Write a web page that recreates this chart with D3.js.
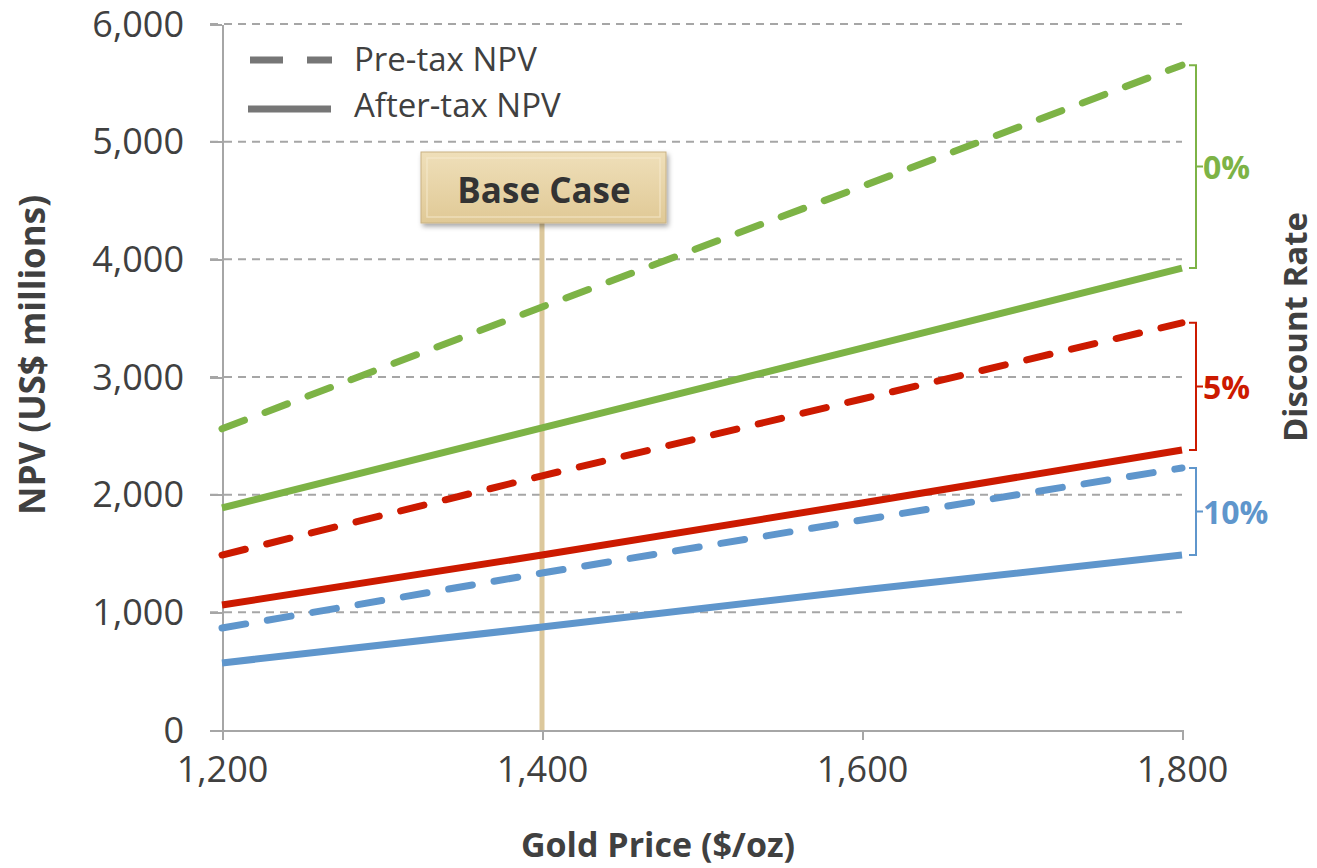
<!DOCTYPE html>
<html lang="en">
<head>
    <meta charset="UTF-8">
    <title>NPV Sensitivity to Gold Price</title>
    <style>
        body {
            margin: 0;
            background: #fff;
        }
        svg text {
            font-family: "Open Sans", Arial, sans-serif;
        }
        .tick text {
            fill: #404040;
            font-size: 36px;
        }
        .axis path, .axis line {
            stroke: #a6a6a6;
            stroke-width: 2;
            shape-rendering: crispEdges;
        }
        .grid line {
            stroke: #a6a6a6;
            stroke-width: 2;
            stroke-dasharray: 8,6;
        }
        .title {
            fill: #404040;
            font-weight: bold;
        }
    </style>
</head>
<body>
<svg id="chart" width="1317" height="868"></svg>

<script src="https://d3js.org/d3.v7.min.js"></script>
<script>
    // Gold price points
    const goldPrices = [1200, 1400, 1600, 1800];
    const yTicks = [0, 1000, 2000, 3000, 4000, 5000, 6000];
    const baseCasePrice = 1400;

    // NPV values (US$ millions)
    const preTax0 = [2560, 3595, 4620, 5650];
    const afterTax0 = [1887, 2567, 3246, 3926];
    const preTax5 = [1487, 2160, 2813, 3460];
    const afterTax5 = [1062, 1487, 1929, 2380];
    const preTax10 = [867, 1334, 1785, 2227];
    const afterTax10 = [570, 875, 1190, 1487];

    const rateLabels = ["0%", "5%", "10%"];
    const rateColors = ["#7db346", "#cc1a00", "#5f96cc"];

    const series = [
        { values: preTax0, color: rateColors[0], dashed: true },
        { values: afterTax0, color: rateColors[0], dashed: false },
        { values: preTax5, color: rateColors[1], dashed: true },
        { values: afterTax5, color: rateColors[1], dashed: false },
        { values: preTax10, color: rateColors[2], dashed: true },
        { values: afterTax10, color: rateColors[2], dashed: false }
    ];

    // brackets on the right: each spans its pre-tax and after-tax end values
    const brackets = [
        { label: rateLabels[0], color: rateColors[0], top: preTax0[3], bottom: afterTax0[3] },
        { label: rateLabels[1], color: rateColors[1], top: preTax5[3], bottom: afterTax5[3] },
        { label: rateLabels[2], color: rateColors[2], top: preTax10[3], bottom: afterTax10[3] }
    ];

    const svg = d3.select("#chart");

    const x = d3.scaleLinear().domain([1200, 1800]).range([222, 1182]);
    const y = d3.scaleLinear().domain([0, 6000]).range([730, 24]);

    // gradient and shadow for base case box
    const defs = svg.append("defs");
    const grad = defs.append("linearGradient")
        .attr("id", "boxGrad")
        .attr("x1", 0).attr("y1", 0).attr("x2", 0).attr("y2", 1);
    grad.append("stop").attr("offset", "0%").attr("stop-color", "#efdfb9");
    grad.append("stop").attr("offset", "100%").attr("stop-color", "#e0c996");
    const shadow = defs.append("filter").attr("id", "shadow")
        .attr("x", "-10%").attr("y", "-10%").attr("width", "130%").attr("height", "140%");
    shadow.append("feDropShadow")
        .attr("dx", 2).attr("dy", 3).attr("stdDeviation", 2.5)
        .attr("flood-color", "#000").attr("flood-opacity", 0.35);

    // gridlines
    svg.append("g")
        .attr("class", "grid")
        .selectAll("line")
        .data(yTicks.filter(d => d > 0))
        .enter().append("line")
        .attr("x1", x(1200) - 12)
        .attr("x2", x(1800))
        .attr("y1", d => y(d))
        .attr("y2", d => y(d));

    // axes
    const yAxis = svg.append("g")
        .attr("class", "axis")
        .attr("transform", `translate(${x(1200)},0)`)
        .call(d3.axisLeft(y).tickValues(yTicks).tickFormat(d3.format(",")).tickSize(12).tickSizeOuter(0).tickPadding(26));
    yAxis.attr("font-family", null);
    yAxis.selectAll(".tick text").attr("dy", "0.34em");

    const xAxis = svg.append("g")
        .attr("class", "axis")
        .attr("transform", `translate(0,${y(0)})`)
        .call(d3.axisBottom(x).tickValues(goldPrices).tickFormat(d3.format(",")).tickSize(10).tickSizeOuter(0).tickPadding(16));
    xAxis.attr("font-family", null);

    // base case vertical line
    svg.append("line")
        .attr("x1", x(baseCasePrice)).attr("x2", x(baseCasePrice))
        .attr("y1", 220).attr("y2", y(0))
        .attr("stroke", "#dcc89c")
        .attr("stroke-width", 5);

    // series lines
    const line = d3.line()
        .x((d, i) => x(goldPrices[i]))
        .y(d => y(d));

    svg.append("g")
        .selectAll("path")
        .data(series)
        .enter().append("path")
        .attr("d", d => line(d.values))
        .attr("fill", "none")
        .attr("stroke", d => d.color)
        .attr("stroke-width", 7)
        .attr("stroke-linecap", d => d.dashed ? "round" : "butt")
        .attr("stroke-dasharray", d => d.dashed ? "24,22" : null);

    // base case box
    const box = svg.append("g");
    box.append("rect")
        .attr("x", 421).attr("y", 152)
        .attr("width", 245).attr("height", 71)
        .attr("fill", "url(#boxGrad)")
        .attr("stroke", "#c9b283")
        .attr("stroke-width", 1)
        .attr("filter", "url(#shadow)");
    box.append("rect")
        .attr("x", 427).attr("y", 158)
        .attr("width", 233).attr("height", 59)
        .attr("fill", "none")
        .attr("stroke", "#f6ebd0")
        .attr("stroke-opacity", 0.6)
        .attr("stroke-width", 1.5);
    box.append("text")
        .attr("x", 544).attr("y", 191)
        .attr("dy", "0.35em")
        .attr("text-anchor", "middle")
        .attr("fill", "#333")
        .attr("font-weight", "bold")
        .attr("font-size", 35)
        .text("Base Case");

    // brackets
    const bx = 1196;
    const bg = svg.append("g");
    brackets.forEach(b => {
        const t = y(b.top), bt = y(b.bottom), m = (t + bt) / 2;
        bg.append("path")
            .attr("d", `M${bx - 7},${t} H${bx} V${bt} H${bx - 7} M${bx},${m} H${bx + 7}`)
            .attr("fill", "none")
            .attr("stroke", b.color)
            .attr("stroke-width", 2);
        bg.append("text")
            .attr("x", bx + 7)
            .attr("y", m + 1)
            .attr("dy", "0.35em")
            .attr("fill", b.color)
            .attr("font-weight", "bold")
            .attr("font-size", 32)
            .text(b.label);
    });

    // legend
    const legend = svg.append("g");
    legend.append("line")
        .attr("x1", 250).attr("x2", 332).attr("y1", 60).attr("y2", 60)
        .attr("stroke", "#767676").attr("stroke-width", 7)
        .attr("stroke-dasharray", "33,24");
    legend.append("line")
        .attr("x1", 248).attr("x2", 331).attr("y1", 109).attr("y2", 109)
        .attr("stroke", "#767676").attr("stroke-width", 7);
    legend.append("text")
        .attr("x", 354).attr("y", 59).attr("dy", "0.35em")
        .attr("fill", "#404040").attr("font-size", 33)
        .text("Pre-tax NPV");
    legend.append("text")
        .attr("x", 354).attr("y", 105).attr("dy", "0.35em")
        .attr("fill", "#404040").attr("font-size", 33)
        .text("After-tax NPV");

    // axis titles
    svg.append("text")
        .attr("class", "title")
        .attr("transform", "translate(33,355) rotate(-90)")
        .attr("dy", "0.35em")
        .attr("text-anchor", "middle")
        .attr("font-size", 35)
        .text("NPV (US$ millions)");

    svg.append("text")
        .attr("class", "title")
        .attr("x", 658).attr("y", 845)
        .attr("dy", "0.35em")
        .attr("text-anchor", "middle")
        .attr("font-size", 34)
        .text("Gold Price ($/oz)");

    svg.append("text")
        .attr("class", "title")
        .attr("transform", "translate(1295,327) rotate(-90)")
        .attr("dy", "0.35em")
        .attr("text-anchor", "middle")
        .attr("font-size", 33)
        .text("Discount Rate");
</script>
</body>
</html>
